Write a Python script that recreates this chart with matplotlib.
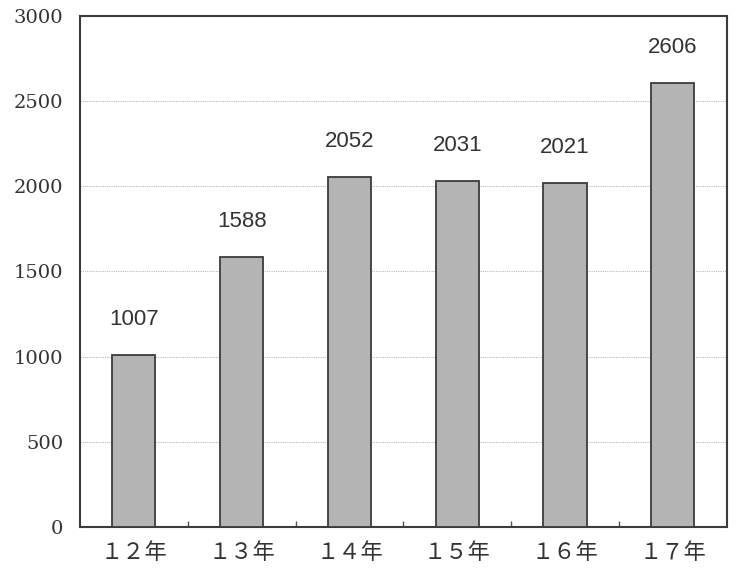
import numpy as np
import matplotlib.pyplot as plt

# data
years = ["１２年", "１３年", "１４年", "１５年", "１６年", "１７年"]
counts = [1007, 1588, 2052, 2031, 2021, 2606]
y_ticks = [0, 500, 1000, 1500, 2000, 2500, 3000]

fig = plt.figure(figsize=(7.4, 5.8), dpi=100)
ax = fig.add_axes([0.108, 0.0914, 0.874, 0.881])

x = np.arange(len(years))
bars = ax.bar(x, counts, width=0.4, color="#b4b4b4",
              edgecolor="#3c3c3c", linewidth=1.3, zorder=3)

# value labels above each bar
for rect, val in zip(bars, counts):
    ax.annotate(str(val), (rect.get_x() + rect.get_width() / 2, val),
                xytext=(0, 18), textcoords="offset points",
                ha="center", va="bottom", fontsize=16,
                family="Liberation Sans", color="#333333")

ax.set_xlim(-0.5, len(years) - 0.5)
ax.set_ylim(0, 3000)
ax.set_yticks(y_ticks)
ax.set_yticklabels([str(t) for t in y_ticks], family="DejaVu Serif",
                   fontsize=14, color="#333333")
ax.set_xticks(x)
ax.set_xticklabels(years, family=["Noto Sans CJK JP", "DejaVu Sans"],
                   fontsize=16, color="#333333")
ax.tick_params(axis="y", length=0, pad=12)
ax.tick_params(axis="x", which="major", length=0, pad=10)

# small inward ticks between categories
ax.set_xticks(np.arange(0.5, len(years) - 0.5), minor=True)
ax.tick_params(axis="x", which="minor", direction="in", length=4,
               color="#555555", width=1)

# dotted grid lines
ax.yaxis.grid(True, linestyle=(0, (1, 1)), color="#bbbbbb", linewidth=0.8, zorder=0)
ax.set_axisbelow(True)

for side in ["left", "right", "top", "bottom"]:
    ax.spines[side].set_color("#3c3c3c")
    ax.spines[side].set_linewidth(1.5)

fig.savefig("out.png", dpi=100)
